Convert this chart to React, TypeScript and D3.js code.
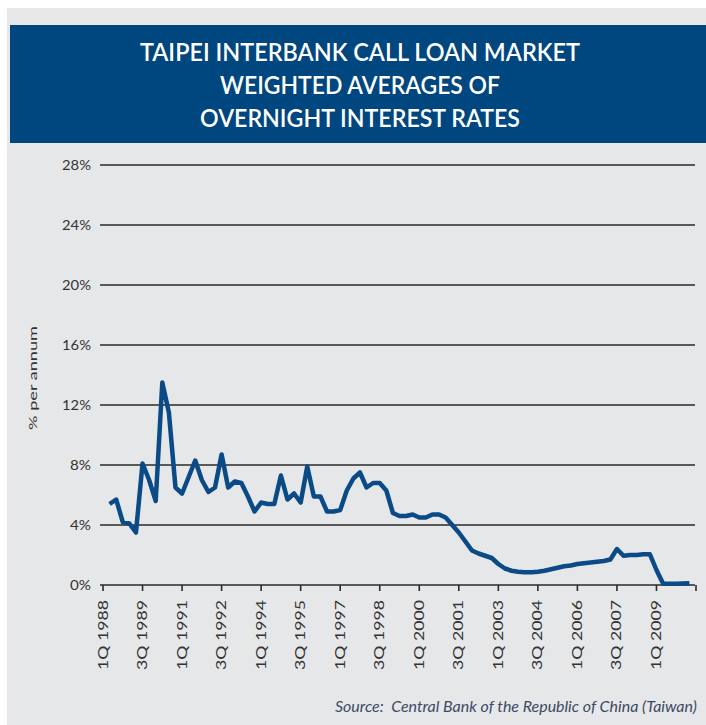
import React from "react";
import * as d3 from "d3";

const titleLines = [
  "TAIPEI INTERBANK CALL LOAN MARKET",
  "WEIGHTED AVERAGES OF",
  "OVERNIGHT INTEREST RATES",
];
const titleWidths = [440, 280, 320];

const yTicks = [0, 4, 8, 12, 16, 20, 24, 28];

// quarter index counted from 1Q 1988
const xTickQuarters = [0, 6, 12, 18, 24, 30, 36, 42, 48, 54, 60, 66, 72, 78, 84, 90];
const xTickLabels = [
  "1Q 1988", "3Q 1989", "1Q 1991", "3Q 1992", "1Q 1994", "3Q 1995", "1Q 1997",
  "3Q 1998", "1Q 2000", "3Q 2001", "1Q 2003", "3Q 2004", "1Q 2006", "3Q 2007",
  "1Q 2009", "",
];

// first observation: 2Q 1988
const firstQuarter = 1;
const rates = [
  5.4, 5.7, 4.2, 4.1, 3.5, 8.1, 7.0, 5.6, 13.5, 11.5,
  6.5, 6.1, 7.2, 8.3, 7.0, 6.2, 6.5, 8.7, 6.5, 6.9,
  6.8, 5.9, 4.9, 5.5, 5.4, 5.4, 7.3, 5.7, 6.1, 5.5,
  7.9, 5.9, 5.9, 4.9, 4.9, 5.0, 6.3, 7.1, 7.5, 6.5,
  6.8, 6.8, 6.3, 4.8, 4.6, 4.6, 4.7, 4.5, 4.5, 4.7,
  4.7, 4.5, 4.0, 3.5, 2.9, 2.3, 2.1, 1.95, 1.8, 1.4,
  1.1, 0.95, 0.88, 0.85, 0.85, 0.88, 0.95, 1.05, 1.15, 1.25,
  1.3, 1.4, 1.45, 1.5, 1.55, 1.6, 1.7, 2.4, 1.95, 2.0,
  2.0, 2.05, 2.05, 1.0, 0.1, 0.08, 0.08, 0.1, 0.12,
];

const FONT = "Lato, 'Open Sans', sans-serif";

export default function App() {
  const W = 706;
  const H = 725;
  const x = d3.scaleLinear().domain([0, 90]).range([103, 696]);
  const y = d3.scaleLinear().domain([0, 28]).range([585, 165]);
  const line = d3
    .line<number>()
    .x((_, i) => x(i + firstQuarter))
    .y((d) => y(d))
    .curve(d3.curveLinear);

  return (
    <svg
      width={W}
      height={H}
      style={{ position: "absolute", left: 0, top: 0 }}
      fontFamily={FONT}
    >
      <rect x={0} y={0} width={W} height={H} fill="#ffffff" />
      <rect x={7} y={8} width={W - 7} height={H - 8} fill="#e6e7e9" />
      <rect x={10} y={25} width={W - 10} height={118} fill="#00467f" />
      {titleLines.map((t, i) => (
        <text
          key={i}
          x={360}
          y={61 + i * 33}
          textAnchor="middle"
          fill="#ffffff"
          fontSize={25}
          fontWeight={600}
          textLength={titleWidths[i]}
          lengthAdjust="spacingAndGlyphs"
        >
          {t}
        </text>
      ))}

      {/* gridlines */}
      {yTicks.map((t) => (
        <g key={t}>
          <line
            x1={100}
            x2={695}
            y1={y(t)}
            y2={y(t)}
            stroke="#2a2a2a"
            strokeWidth={1.6}
          />
          <text
            x={91}
            y={y(t) + 4.5}
            textAnchor="end"
            fontSize={13}
            fill="#333333"
            textLength={t >= 10 ? 29 : 21}
            lengthAdjust="spacingAndGlyphs"
          >
            {t}%
          </text>
        </g>
      ))}

      <text
        transform={`translate(37,${378}) rotate(-90)`}
        textAnchor="middle"
        fontSize={12}
        fill="#333333"
        textLength={104}
        lengthAdjust="spacingAndGlyphs"
      >
        % per annum
      </text>

      {/* x ticks */}
      {xTickQuarters.map((q, i) => (
        <g key={q} transform={`translate(${x(q)},0)`}>
          <line y1={585} y2={591} stroke="#2a2a2a" strokeWidth={1.6} />
          {xTickLabels[i] && (
            <text
              transform={`translate(4.5,${600}) rotate(-90)`}
              textAnchor="end"
              fontSize={13}
              fill="#333333"
              textLength={70}
              lengthAdjust="spacingAndGlyphs"
            >
              {xTickLabels[i]}
            </text>
          )}
        </g>
      ))}

      <path
        d={line(rates) || ""}
        fill="none"
        stroke="#0a4a86"
        strokeWidth={4.5}
        strokeLinejoin="round"
        strokeLinecap="butt"
      />

      <text
        x={697}
        y={712}
        textAnchor="end"
        fontSize={15}
        fontStyle="italic"
        fill="#3d4a63"
        textLength={362}
        lengthAdjust="spacingAndGlyphs"
      >
        {"Source:\u00a0\u00a0Central Bank of the Republic of China (Taiwan)"}
      </text>
    </svg>
  );
}
